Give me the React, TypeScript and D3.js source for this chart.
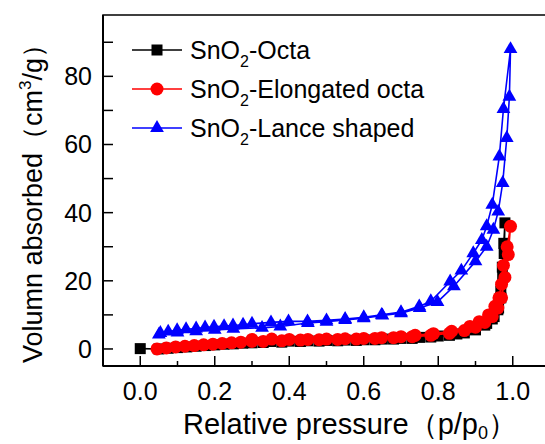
import React from "react";
import * as d3 from "d3";

const width = 545;
const height = 444;
const margin = { top: 15, right: -5, bottom: 78, left: 103 };

// x ticks / y ticks
const xTicks = [0.0, 0.2, 0.4, 0.6, 0.8, 1.0];
const xMinor = [0.1, 0.3, 0.5, 0.7, 0.9];
const yTicks = [0, 20, 40, 60, 80];
const yMinor = [10, 30, 50, 70, 90];

// SnO2-Octa: adsorption then desorption, in measurement order
const octaP = [
  0.0, 0.05, 0.075, 0.1, 0.125, 0.15, 0.175, 0.2, 0.225, 0.25, 0.275, 0.3, 0.33, 0.38, 0.43, 0.48, 0.53, 0.58,
  0.63, 0.68, 0.73, 0.78, 0.83, 0.87, 0.9, 0.925, 0.945, 0.96, 0.968, 0.973, 0.977, 0.979,
  0.976, 0.972, 0.968, 0.962, 0.95, 0.93, 0.9, 0.85, 0.8, 0.75, 0.7, 0.65, 0.6, 0.55, 0.5, 0.45, 0.4, 0.35,
];
const octaV = [
  0.1, 0.0, 0.2, 0.4, 0.6, 0.8, 1.0, 1.2, 1.4, 1.5, 1.7, 1.8, 1.9, 2.0, 2.2, 2.3, 2.4, 2.5,
  2.7, 2.9, 3.1, 3.5, 4.0, 4.7, 5.6, 7.0, 8.8, 11.5, 15, 21, 28, 37,
  31, 24, 17, 12, 9.5, 7.5, 5.8, 4.4, 3.8, 3.4, 3.1, 2.9, 2.7, 2.6, 2.5, 2.4, 2.3, 2.2,
];

// SnO2-Elongated octa
const elongP = [
  0.045, 0.07, 0.095, 0.12, 0.145, 0.17, 0.195, 0.22, 0.245, 0.27, 0.3, 0.33, 0.38, 0.43, 0.48, 0.53, 0.58,
  0.63, 0.68, 0.73, 0.78, 0.83, 0.87, 0.9, 0.925, 0.945, 0.96, 0.97, 0.979, 0.988, 0.994,
  0.985, 0.975, 0.97, 0.963, 0.952, 0.935, 0.91, 0.885, 0.836, 0.787, 0.738, 0.7, 0.648, 0.6, 0.55, 0.5, 0.45,
  0.4, 0.353, 0.3,
];
const elongV = [
  0.0, 0.3, 0.6, 0.8, 1.0, 1.2, 1.4, 1.6, 1.8, 2.0, 2.2, 2.2, 2.4, 2.6, 2.7, 2.8, 2.9,
  3.1, 3.3, 3.6, 4.0, 4.6, 5.4, 6.4, 7.8, 9.5, 12, 15, 21, 27.7, 36,
  30, 24.5, 19, 15, 12.5, 10, 8, 6.6, 5.2, 4.5, 4.0, 3.6, 3.3, 3.1, 3.0, 2.9, 2.8,
  2.8, 2.9, 2.8,
];

// SnO2-Lance shaped
const lanceP = [
  0.05, 0.1, 0.15, 0.2, 0.25, 0.327, 0.376, 0.45, 0.5, 0.55, 0.6, 0.65, 0.7, 0.75, 0.798, 0.842, 0.9, 0.93,
  0.948, 0.961, 0.973, 0.984, 0.991, 0.994,
  0.975, 0.964, 0.945, 0.93, 0.917, 0.894, 0.862, 0.832, 0.78, 0.749, 0.7, 0.648, 0.6, 0.55, 0.5, 0.449, 0.398,
  0.351, 0.3, 0.276, 0.249, 0.225, 0.198, 0.174, 0.15, 0.123, 0.099, 0.075, 0.054,
];
const lanceV = [
  4.2, 4.8, 5.2, 5.6, 5.9, 6.2, 6.6, 7.6, 8.0, 8.5, 9.0, 9.8, 10.5, 12.0, 13.8, 18.4, 25.7, 30,
  35, 40.3, 48.7, 61.9, 74, 88,
  70.4, 56.5, 42.3, 36, 32, 28.1, 23, 19.8, 14, 12.5, 10.8, 10.0, 9.3, 8.8, 8.4, 8.1, 8.1,
  7.8, 7.4, 7.1, 6.9, 6.7, 6.5, 6.3, 6.0, 5.8, 5.5, 5.1, 4.7,
];

const series = [
  { name: "-Octa", p: octaP, v: octaV, color: "#000000", shape: "square" },
  { name: "-Elongated octa", p: elongP, v: elongV, color: "#ff0000", shape: "circle" },
  { name: "-Lance shaped", p: lanceP, v: lanceV, color: "#0000ff", shape: "triangle" },
];

const font = "'Liberation Sans', Arial, sans-serif";

const Marker = ({ shape, x, y, color }) => {
  if (shape === "square") return <rect x={x - 5.5} y={y - 5.5} width={11} height={11} fill={color} />;
  if (shape === "circle") return <circle cx={x} cy={y} r={6.5} fill={color} />;
  const tri = d3.symbol(d3.symbolTriangle, 82)();
  return <path d={tri} transform={`translate(${x},${y})`} fill={color} />;
};

const App = () => {
  const x = d3.scaleLinear().domain([-0.1, 1.1]).range([margin.left, width - margin.right]);
  const y = d3.scaleLinear().domain([-5, 98]).range([height - margin.bottom, margin.top]);
  const line = d3
    .line()
    .x((d) => x(d[0]))
    .y((d) => y(d[1]));

  const bottom = height - margin.bottom;

  return (
    <svg width={width} height={height} style={{ position: "absolute", left: 0, top: 0, background: "#fff" }} fontFamily={font}>
      <rect width={width} height={height} fill="#fff" />
      {series.map((s, i) => {
        const pts = s.p.map((p, j) => [p, s.v[j]]);
        return (
          <g key={i}>
            <path d={line(pts)} fill="none" stroke={s.color} strokeWidth={1.6} />
            {pts.map((d, j) => (
              <Marker key={j} shape={s.shape} x={x(d[0])} y={y(d[1])} color={s.color} />
            ))}
          </g>
        );
      })}

      {/* frame */}
      <rect
        x={x(-0.1)}
        y={margin.top}
        width={x(1.1) - x(-0.1)}
        height={bottom - margin.top}
        fill="none"
        stroke="#000"
        strokeWidth={1.5}
      />
      <line x1={x(-0.1)} x2={x(1.1)} y1={bottom} y2={bottom} stroke="#000" strokeWidth={2} />
      <line x1={x(-0.1)} x2={x(-0.1)} y1={margin.top} y2={bottom} stroke="#000" strokeWidth={2} />

      {/* x axis ticks */}
      {xTicks.map((t) => (
        <g key={t}>
          <line x1={x(t)} x2={x(t)} y1={bottom} y2={bottom - 10} stroke="#000" strokeWidth={1.5} />
          <text x={x(t)} y={bottom + 34} fontSize={25} textAnchor="middle">
            {d3.format(".1f")(t)}
          </text>
        </g>
      ))}
      {xMinor.map((t) => (
        <line key={t} x1={x(t)} x2={x(t)} y1={bottom} y2={bottom - 5} stroke="#000" strokeWidth={1.5} />
      ))}

      {/* y axis ticks */}
      {yTicks.map((t) => (
        <g key={t}>
          <line x1={x(-0.1)} x2={x(-0.1) + 10} y1={y(t)} y2={y(t)} stroke="#000" strokeWidth={1.5} />
          <text x={x(-0.1) - 11} y={y(t)} dy="0.36em" fontSize={25} textAnchor="end">
            {t}
          </text>
        </g>
      ))}
      {yMinor.map((t) => (
        <line key={t} x1={x(-0.1)} x2={x(-0.1) + 10} y1={y(t)} y2={y(t)} stroke="#000" strokeWidth={1.5} />
      ))}

      {/* axis titles */}
      <text x={350} y={434} fontSize={29} textAnchor="middle">
        Relative pressure（p/p<tspan fontSize={18} dy={5}>0</tspan>
        <tspan dy={-5}>）</tspan>
      </text>
      <text transform="translate(42,197) rotate(-90)" fontSize={27} textAnchor="middle">
        Volumn absorbed（cm<tspan fontSize={17} dy={-11}>3</tspan>
        <tspan dy={11}>/g）</tspan>
      </text>

      {/* legend */}
      {series.map((s, i) => {
        const ly = 50 + i * 39;
        return (
          <g key={i}>
            <line x1={132} x2={182} y1={ly} y2={ly} stroke={s.color} strokeWidth={1.6} />
            <Marker shape={s.shape} x={157} y={ly} color={s.color} />
            <text x={190} y={ly} dy="0.36em" fontSize={25}>
              SnO<tspan fontSize={16} dy={8}>2</tspan>
              <tspan dy={-8}>{s.name}</tspan>
            </text>
          </g>
        );
      })}
    </svg>
  );
};

export default App;
